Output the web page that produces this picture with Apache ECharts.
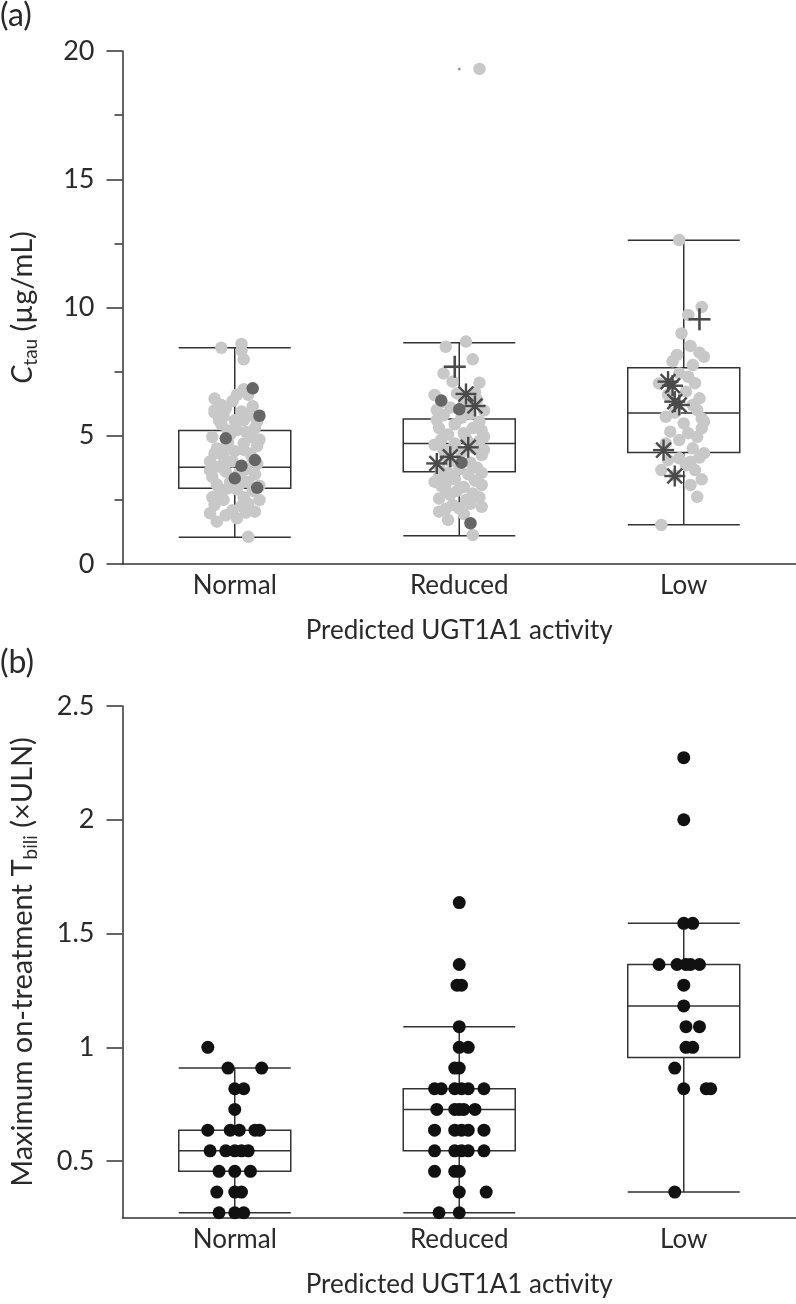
<!DOCTYPE html>
<html>
<head>
<meta charset="utf-8">
<script src="https://cdn.jsdelivr.net/npm/echarts@6/dist/echarts.min.js"></script>
<style>
html,body{margin:0;padding:0;background:#fff;}
#chart{width:796px;height:1304px;}
</style>
</head>
<body>
<div id="chart"></div>
<script>
// ---------- DATA ----------
const categories = ['Normal', 'Reduced', 'Low'];
const xAxisTitle = 'Predicted UGT1A1 activity';

// Panel (a): Ctau (µg/mL). Box stats [min, Q1, median, Q3, max]
const boxA = [
  [1.04, 2.95, 3.77, 5.20, 8.43],
  [1.10, 3.60, 4.70, 5.65, 8.63],
  [1.53, 4.35, 5.89, 7.65, 12.62]
];
const yTicksA = [0, 5, 10, 15, 20];

// points: [jitter (category units), value]
const normalGrayA = [[-0.06,8.43],[0.03,8.58],[0.03,8.32],[0.04,7.98],[0.04,6.81],[0.06,6.6],[-0.09,6.45],[-0.04,6.05],[-0.09,6.0],[0.03,5.95],[0.06,5.8],[-0.07,5.6],[0.04,5.6],[-0.06,5.45],[0.09,5.3],[0.01,5.22],[-0.03,5.2],[-0.10,4.95],[0.11,4.85],[-0.04,4.57],[0.04,4.45],[-0.05,4.2],[0.07,4.3],[-0.01,4.0],[-0.07,3.8],[0.10,3.9],[-0.10,3.4],[0.09,3.5],[-0.04,3.6],[0.05,3.7],[0.02,3.55],[-0.08,3.1],[-0.02,3.2],[0.06,3.2],[-0.06,2.75],[0.01,2.9],[0.11,2.5],[-0.09,2.3],[0.03,2.25],[-0.11,1.98],[0.09,2.04],[-0.08,1.65],[0.01,1.78],[0.06,1.06],[-0.03,4.75],[0.04,4.7],[0,4.4],[-0.08,4.5],[0.08,4.1],[-0.04,3.95],[0.03,3.3],[-0.03,2.95],[-0.05,2.5],[0.04,2.6],[-0.01,2.1],[0.06,2.35],[-0.09,5.9],[-0.01,6.35],[0.05,5.15],[-0.11,4.0],[0,5.6],[-0.06,6.2],[0.08,6.15],[-0.02,5.05],[0.07,4.95],[-0.09,4.3],[0.10,4.6],[0.02,3.1],[-0.07,2.95],[0.08,2.85],[-0.10,2.6],[0.05,2.0],[-0.04,1.9],[0.11,3.05],[-0.11,3.65],[0.01,6.6],[-0.05,5.75],[0.10,5.55]];
const normalDarkA = [[0.08,6.85],[0.11,5.78],[-0.04,4.9],[0.09,4.05],[0.03,3.83],[0.00,3.34],[0.10,2.97]];

const reducedGrayA = [[-0.06,8.47],[0.03,8.67],[0.06,7.98],[-0.07,7.43],[-0.03,7.11],[0.09,7.07],[-0.11,6.59],[0.11,5.98],[-0.10,5.61],[0.11,4.96],[-0.09,3.4],[-0.06,2.88],[0.10,3.08],[-0.03,2.3],[0.00,2.17],[0.10,2.23],[-0.09,2.04],[-0.05,1.72],[0.06,1.13],[-0.08,6.3],[0.02,6.45],[0.07,6.7],[-0.04,6.1],[0.05,5.85],[-0.07,5.8],[0.01,5.7],[0.09,5.55],[-0.02,5.45],[-0.09,5.3],[0.06,5.3],[0.02,5.1],[-0.05,5.05],[0.09,4.8],[-0.08,4.85],[0.03,4.9],[-0.02,4.7],[0.07,4.5],[-0.07,4.45],[0.01,4.35],[0.10,4.25],[-0.04,4.0],[0.05,3.95],[-0.09,3.8],[0.08,3.75],[0.00,3.7],[-0.05,3.55],[0.04,3.5],[-0.02,3.3],[0.07,3.25],[-0.08,3.05],[0.02,3.0],[0.06,2.75],[-0.04,2.7],[-0.09,2.55],[0.03,2.5],[0.09,2.6],[-0.01,2.85],[-0.06,4.2],[0.10,5.2],[0.04,6.2],[-0.10,6.0],[-0.06,3.15],[0.05,4.7],[0.09,19.3],[-0.01,6.65],[0.08,6.4],[-0.11,4.65],[0.11,4.45],[-0.03,4.5],[0.10,3.55],[-0.11,3.2],[0.05,2.35],[-0.06,2.15],[0.02,1.95]];
const reducedDarkA = [[-0.08,6.37],[0.00,6.03],[0.01,3.95],[0.05,1.59]];
const reducedStarA = [[0.03,6.63],[0.07,6.16],[0.04,4.55],[-0.04,4.18],[-0.10,3.92]];
const reducedPlusA = [[-0.02,7.69]];
const reducedSpeckA = [[0.00,19.3]];

const lowGrayA = [[-0.02,12.63],[0.08,10.02],[0.02,9.71],[-0.01,8.99],[0.03,8.5],[-0.03,8.15],[0.07,8.24],[0.09,8.08],[0.04,7.76],[-0.02,7.43],[0.02,7.3],[-0.11,7.04],[0.01,6.72],[0.07,6.46],[0.04,6.2],[-0.08,5.74],[0.08,5.68],[0.00,5.48],[0.08,5.29],[-0.06,5.16],[0.06,4.96],[-0.02,4.83],[0.04,4.51],[0.09,4.32],[-0.02,4.12],[-0.07,4.05],[0.03,3.99],[0.05,3.66],[-0.10,3.66],[0.03,3.08],[0.06,2.62],[-0.10,1.52],[-0.05,7.9],[0.05,7.05],[-0.07,6.6],[0.06,6.0],[-0.04,5.9],[0.09,5.55],[0.02,5.1],[-0.08,4.7],[0.07,4.15],[-0.04,3.45],[0.08,3.3],[0.01,3.85]];
const lowStarA = [[-0.07,7.11],[-0.05,6.95],[-0.04,6.33],[-0.02,6.2],[-0.09,4.44],[-0.04,3.43]];
const lowPlusA = [[0.07,9.54]];

// Panel (b): maximum on-treatment Tbili (xULN)
const boxB = [
  [0.273, 0.455, 0.545, 0.636, 0.909],
  [0.273, 0.545, 0.727, 0.818, 1.091],
  [0.364, 0.955, 1.182, 1.364, 1.545]
];
const yTicksB = [0.5, 1, 1.5, 2, 2.5];
const normalB = [[-0.12,1.0],[-0.03,0.909],[0.12,0.909],[0.00,0.818],[0.04,0.818],[0.00,0.727],[-0.12,0.636],[-0.02,0.636],[0.02,0.636],[0.09,0.636],[0.11,0.636],[-0.11,0.545],[-0.04,0.545],[0.00,0.545],[0.03,0.545],[0.06,0.545],[-0.07,0.455],[0.00,0.455],[0.07,0.455],[-0.08,0.364],[0.00,0.364],[0.03,0.364],[-0.07,0.273],[0.00,0.273],[0.04,0.273]];
const reducedB = [[0,1.636],[0,1.364],[-0.01,1.273],[0.01,1.273],[0,1.091],[0,1.0],[0.04,1.0],[-0.02,0.909],[0,0.909],[-0.11,0.818],[-0.08,0.818],[-0.02,0.818],[0.01,0.818],[0.04,0.818],[0.11,0.818],[-0.10,0.727],[-0.02,0.727],[0,0.727],[0.02,0.727],[0.07,0.727],[-0.11,0.636],[-0.02,0.636],[0.01,0.636],[0.04,0.636],[0.11,0.636],[-0.11,0.545],[-0.02,0.545],[0.01,0.545],[0.04,0.545],[0.11,0.545],[-0.11,0.455],[-0.02,0.455],[0.00,0.455],[0,0.364],[0.12,0.364],[-0.09,0.273],[0,0.273]];
const lowB = [[0,2.273],[0,2.0],[0,1.545],[0.04,1.545],[-0.11,1.364],[-0.03,1.364],[0.01,1.364],[0.03,1.364],[0.07,1.364],[0,1.273],[0,1.182],[0.01,1.091],[0.07,1.091],[0.01,1.0],[0.04,1.0],[-0.04,0.909],[0,0.818],[0.10,0.818],[0.12,0.818],[-0.04,0.364]];

// ---------- CHART ----------
const FONT = 'Lato';
const TXT = '#2a2a2a';
const LINE = '#333';
const place = (pts, g) => pts.map(p => [g + p[0], p[1]]);

function catAxis(gridIndex) {
  return {
    type: 'category', gridIndex, data: categories, boundaryGap: true,
    axisLine: {lineStyle: {color: LINE, width: 1.5}},
    axisTick: {show: false},
    axisLabel: {fontFamily: FONT, fontSize: 26, color: TXT, margin: 9},
    name: xAxisTitle, nameLocation: 'middle', nameGap: 54,
    nameTextStyle: {fontFamily: FONT, fontSize: 26, color: TXT}
  };
}
function valXAxis(gridIndex) {
  return {type: 'value', gridIndex, min: -0.5, max: 2.5, show: false};
}
function scatter(xi, yi, data, size, color, extra) {
  return Object.assign({
    type: 'scatter', xAxisIndex: xi, yAxisIndex: yi, data,
    symbol: 'circle', symbolSize: size, itemStyle: {color, opacity: 1},
    silent: true, z: 3
  }, extra || {});
}
function strokes(xi, yi, data, rots, size, color) {
  return rots.map(r => scatter(xi, yi, data, size, color, {symbol: 'rect', symbolRotate: r, z: 4}));
}
const boxStyle = {color: 'rgba(0,0,0,0)', borderColor: LINE, borderWidth: 1.5};

const subRich = {
  i: {fontFamily: FONT, fontSize: 29, fontStyle: 'italic', color: TXT, lineHeight: 36, verticalAlign: 'middle'},
  n: {fontFamily: FONT, fontSize: 29, color: TXT, lineHeight: 36, verticalAlign: 'middle'},
  s: {fontFamily: FONT, fontSize: 19, color: TXT, lineHeight: 16, verticalAlign: 'bottom'}
};

const grayA = [].concat(place(normalGrayA, 0), place(reducedGrayA, 1), place(lowGrayA, 2));
const darkA = [].concat(place(normalDarkA, 0), place(reducedDarkA, 1));
const starA = [].concat(place(reducedStarA, 1), place(lowStarA, 2));
const plusA = [].concat(place(reducedPlusA, 1), place(lowPlusA, 2));
const ptsB = [].concat(place(normalB, 0), place(reducedB, 1), place(lowB, 2));

function yAxisBase(gridIndex) {
  return {
    type: 'value', gridIndex,
    axisLine: {show: true, onZero: false, lineStyle: {color: LINE, width: 1.5}},
    splitLine: {show: false},
    nameLocation: 'middle', nameGap: 82,
    nameTextStyle: {rich: subRich}
  };
}

const option = {
  animation: false,
  backgroundColor: '#fff',
  textStyle: {fontFamily: FONT},
  grid: [
    {left: 113, top: 51, width: 683, height: 513},
    {left: 113, top: 706, width: 683, height: 512}
  ],
  xAxis: [catAxis(0), valXAxis(0), catAxis(1), valXAxis(1)],
  yAxis: [
    Object.assign(yAxisBase(0), {
      min: yTicksA[0], max: yTicksA[yTicksA.length - 1], interval: 5,
      axisTick: {show: true, length: 16, lineStyle: {color: LINE, width: 1.5}},
      minorTick: {show: true, splitNumber: 2, length: 8, lineStyle: {color: LINE, width: 1.5}},
      axisLabel: {fontFamily: FONT, fontSize: 27, color: TXT, margin: 28},
      name: '{i|C}{s|tau}{n| (µg/mL)}'
    }),
    Object.assign(yAxisBase(1), {
      min: 0.25, max: 2.5, interval: 0.25,
      axisTick: {show: true, length: 16, lineStyle: {color: LINE, width: 1.5}, customValues: yTicksB},
      axisLabel: {fontFamily: FONT, fontSize: 27, color: TXT, margin: 28, customValues: yTicksB},
      name: '{n|Maximum on-treatment T}{s|bili}{n| (×ULN)}'
    })
  ],
  graphic: [
    {type: 'text', left: 0, top: 0, style: {text: '(a)', fontFamily: FONT, fontSize: 32, fill: TXT}},
    {type: 'text', left: 0, top: 647, style: {text: '(b)', fontFamily: FONT, fontSize: 32, fill: TXT}}
  ],
  series: [
    {type: 'boxplot', xAxisIndex: 0, yAxisIndex: 0, data: boxA, boxWidth: [112, 112],
     itemStyle: boxStyle, silent: true, z: 1},
    {type: 'boxplot', xAxisIndex: 2, yAxisIndex: 1, data: boxB, boxWidth: [112, 112],
     itemStyle: boxStyle, silent: true, z: 1},
    scatter(1, 0, grayA, 12.5, '#c8c8c8'),
    scatter(1, 0, place(reducedSpeckA, 1), 3, '#9a9a9a'),
    scatter(1, 0, darkA, 12.5, '#666666'),
    ...strokes(1, 0, starA, [0, 45, 90, 135], [2.4, 21], '#4a4a4a'),
    ...strokes(1, 0, plusA, [0, 90], [2.6, 22], '#4a4a4a'),
    scatter(3, 1, ptsB, 13, '#111111')
  ]
};

const chart = echarts.init(document.getElementById('chart'), null, {renderer: 'canvas'});
chart.setOption(option);
</script>
</body>
</html>
